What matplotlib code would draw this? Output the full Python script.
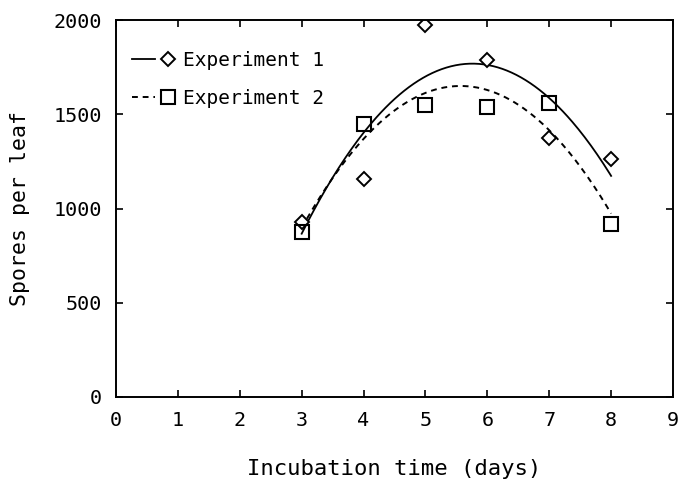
import numpy as np
import matplotlib
matplotlib.use("Agg")
import matplotlib.pyplot as plt
from matplotlib.lines import Line2D
from matplotlib.legend_handler import HandlerTuple

plt.rcParams['font.family'] = ['DejaVu Sans Mono']

days = [3, 4, 5, 6, 7, 8]
exp1 = [928, 1157, 1975, 1790, 1376, 1263]
exp2 = [876, 1450, 1550, 1540, 1562, 918]
x_ticks = [0, 1, 2, 3, 4, 5, 6, 7, 8, 9]
y_ticks = [0, 500, 1000, 1500, 2000]
labels = ["Experiment 1", "Experiment 2"]
xlabel = "Incubation time (days)"
ylabel = "Spores per leaf"

fig = plt.figure(figsize=(6.8, 4.79), dpi=100)
ax = fig.add_axes([116/680, 1-397/479, (673-116)/680, (397-20)/479])

xs = np.linspace(min(days), max(days), 200)
c1 = np.polyfit(days, exp1, 2)
c2 = np.polyfit(days, exp2, 2)
ax.plot(xs, np.polyval(c1, xs), color='black', lw=1.3)
ax.plot(xs, np.polyval(c2, xs), color='black', lw=1.4, linestyle=(0, (3, 2.5)))

dkw = dict(linestyle='none', marker='D', ms=7.5, mfc='white', mec='black', mew=1.4)
skw = dict(linestyle='none', marker='s', ms=10.5, mfc='none', mec='black', mew=1.5)
ax.plot(days, exp1, **dkw)
ax.plot(days, exp2, **skw)

ax.set_xlim(0, 9)
ax.set_ylim(0, 2000)
ax.set_xticks(x_ticks)
ax.set_yticks(y_ticks)
ax.tick_params(direction='in', length=5, width=1.2, top=True, right=True,
               labelsize=14.5, pad=10)
for s in ax.spines.values():
    s.set_linewidth(1.4)

ax.set_xlabel(xlabel, fontsize=16, labelpad=21)
ax.set_ylabel(ylabel, fontsize=15.5, labelpad=17)

h1 = (Line2D([], [], color='black', lw=1.3), Line2D([], [], **dkw))
h2 = (Line2D([], [], color='black', lw=1.4, linestyle=(0, (3, 2.5))), Line2D([], [], **skw))
ax.legend([h1, h2], labels, handler_map={tuple: HandlerTuple(ndivide=2, pad=0.1)},
          loc='upper left', frameon=False, fontsize=14, handlelength=2.4,
          handletextpad=0.2, labelspacing=1.0, borderaxespad=0.3,
          bbox_to_anchor=(0.005, 0.955))

fig.savefig("out.png", dpi=100)
